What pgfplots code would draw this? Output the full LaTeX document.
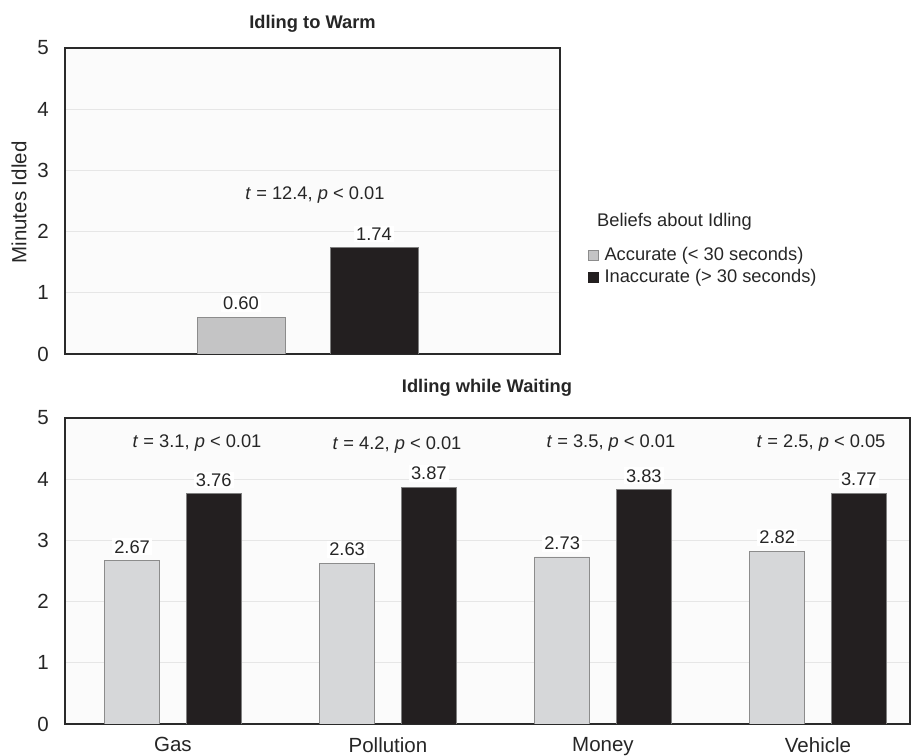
\documentclass[border=0pt]{standalone}
\usepackage{pgfplots}
\pgfplotsset{compat=1.18}
\usepackage{fontspec}
\setmainfont{Liberation Sans}
\definecolor{lightbarA}{HTML}{C4C4C5}
\definecolor{lightbarB}{HTML}{D6D7D9}
\definecolor{darkbar}{HTML}{231F20}
\definecolor{framec}{HTML}{2A2A2A}
\definecolor{gridc}{HTML}{E6E6E6}
\definecolor{edgec}{HTML}{8C8C8C}
\newcommand{\fs}{\fontsize{18.3bp}{22bp}\selectfont}
\newcommand{\fl}{\fontsize{20.5bp}{24bp}\selectfont}
\begin{document}
\fs
\begin{tikzpicture}[x=1bp,y=1bp]
\useasboundingbox (0,0) rectangle (912,756);
\pgfplotsset{
  common/.style={
    scale only axis, anchor=south west,
    ymin=0, ymax=5, ytick={0,1,2,3,4,5},
    enlargelimits=false,
    ymajorgrids, grid style={gridc, line width=1bp},
    axis line style={framec, line width=1.6bp},
    major tick length=0pt,
    axis background/.style={fill=black!1.5},
    tick label style={font=\fl, text=black!85},
    /pgf/number format/assume math mode=true,
    yticklabel style={xshift=-10bp},
    ybar,
    point meta=explicit symbolic,
    nodes near coords,
    nodes near coords style={font=\fs, fill=white, inner sep=2bp, yshift=5bp, text=black!85},
  },
}
% ---------- top chart ----------
\begin{axis}[common, at={(65bp,402bp)}, width=495bp, height=306bp,
  xmin=-0.323, xmax=3.398, xtick=\empty, bar width=0.662,
  ylabel={Minutes Idled},
  ylabel style={at={(axis description cs:-0.093,0.495)}, anchor=center, font=\fl, text=black!85},
  legend style={at={(1.0566,0.355)}, anchor=north west, draw=none, fill=none,
    font=\fs, text=black!85,
    row sep=3bp, inner sep=0bp,
    nodes={inner sep=1.5bp},
    /tikz/every odd column/.append style={column sep=4bp}},
  legend cell align=left,
]
\addplot[bar shift=0pt, fill=lightbarA, draw=edgec, line width=0.8bp,
  legend image code/.code={\draw[fill=lightbarA, draw=edgec, line width=0.8bp] (0bp,-5bp) rectangle (10bp,5bp);}]
  coordinates {(1,0.60) [0.60]};
\addlegendentry{Accurate (< 30 seconds)}
\addplot[bar shift=0pt, fill=darkbar, draw=gray, line width=0.8bp,
  legend image code/.code={\draw[fill=darkbar, draw=darkbar, line width=0.8bp] (0bp,-5bp) rectangle (10bp,5bp);}]
  coordinates {(2,1.74) [1.74]};
\addlegendentry{Inaccurate (> 30 seconds)}
\node[text=black!85] at (axis cs:1.556,2.6) {\textit{t} = 12.4, \textit{p} < 0.01};
\end{axis}
\node[anchor=west, inner sep=0pt, text=black!85] at (597,534) {Beliefs about Idling};
\node[font=\fs\bfseries, text=black!85] at (312.5,732) {Idling to Warm};
% ---------- bottom chart ----------
\begin{axis}[common, at={(65bp,32bp)}, width=845bp, height=306bp,
  xmin=-0.502, xmax=3.428, bar width=0.256,
  xtick={0,1,2,3}, xticklabels={Gas,Pollution,Money,Vehicle},
  xticklabel style={yshift=-7bp, font=\fl},
]
\addplot[bar shift=0pt, fill=lightbarB, draw=edgec, line width=0.8bp]
  coordinates {(-0.19,2.67) [2.67] (0.81,2.63) [2.63] (1.81,2.73) [2.73] (2.81,2.82) [2.82]};
\addplot[bar shift=0pt, fill=darkbar, draw=gray, line width=0.8bp]
  coordinates {(0.19,3.76) [3.76] (1.19,3.87) [3.87] (2.19,3.83) [3.83] (3.19,3.77) [3.77]};
\node[text=black!85] at (axis cs:0.112,4.59) {\textit{t} = 3.1, \textit{p} < 0.01};
\node[text=black!85] at (axis cs:1.042,4.56) {\textit{t} = 4.2, \textit{p} < 0.01};
\node[text=black!85] at (axis cs:2.037,4.59) {\textit{t} = 3.5, \textit{p} < 0.01};
\node[text=black!85] at (axis cs:3.014,4.59) {\textit{t} = 2.5, \textit{p} < 0.05};
\end{axis}
\node[font=\fs\bfseries, text=black!85] at (487,368) {Idling while Waiting};
\end{tikzpicture}
\end{document}
